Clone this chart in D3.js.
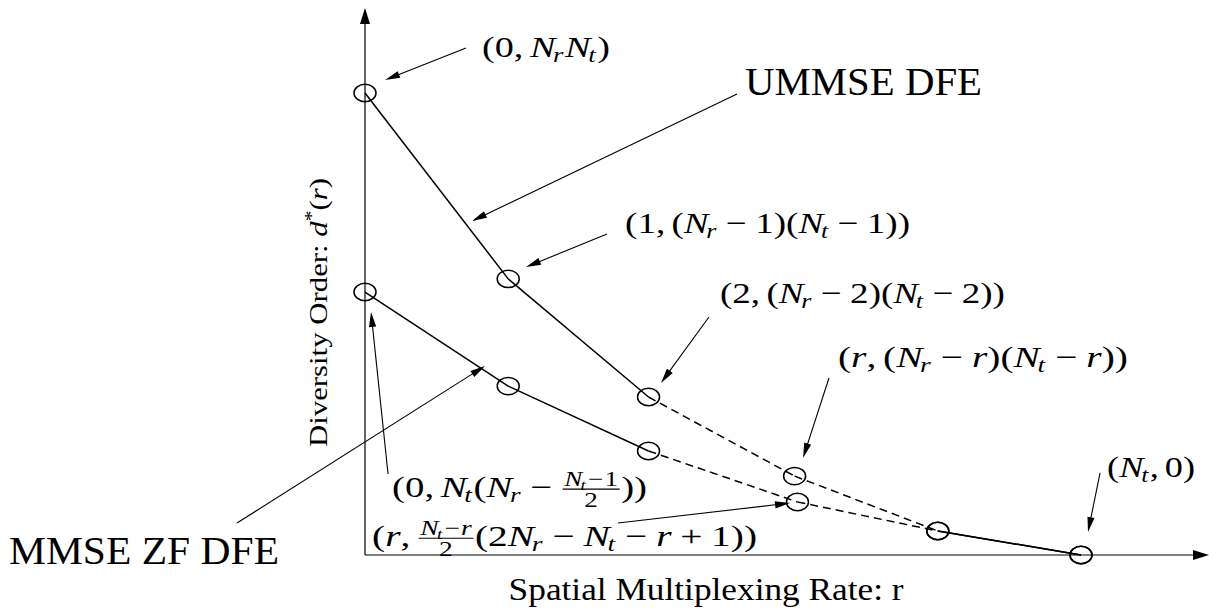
<!DOCTYPE html>
<html><head><meta charset="utf-8">
<script src="https://cdn.jsdelivr.net/npm/d3@7"></script>
<style>html,body{margin:0;padding:0;background:#fff;} svg{display:block;}</style>
</head><body>
<svg id="c" width="1217" height="612"></svg>
<script>
// ---------- data ----------
const ummseRate  = [0, 1, 1.98, 3, 4, 5];
const ummseOrder = [25, 14.94, 8.55, 4.27, 1.30, 0];
const zfRate     = [0, 1, 1.98, 3.02, 4, 5];
const zfOrder    = [14.23, 9.14, 5.63, 2.87, 1.30, 0];
const segmentStyle = ["solid", "solid", "dashed", "dashed", "solid"];
const seriesNames = ["UMMSE DFE", "MMSE ZF DFE"];
const xAxisTitle = "Spatial Multiplexing Rate: r";
const yAxisTitle = "Diversity Order: ";
const xAxisEnd = 5.894, yAxisEnd = 29.6;

// ---------- formula pieces ----------
const V = s => ({v: s});
const SUB = (...p) => ({sub: p});
const OP = s => ({op: s});
const SP = e => ({sp: e});
const FR = (n, d) => ({frac: [n, d]});
const fA1 = ["(0,", SP(.17), V("N"), SUB(V("r")), V("N"), SUB(V("t")), ")"];
const fA3 = ["(1,", SP(.17), "(", V("N"), SUB(V("r")), OP("\u2212"), "1)(", V("N"), SUB(V("t")), OP("\u2212"), "1))"];
const fA4 = ["(2,", SP(.17), "(", V("N"), SUB(V("r")), OP("\u2212"), "2)(", V("N"), SUB(V("t")), OP("\u2212"), "2))"];
const fA5 = ["(", V("r"), ",", SP(.17), "(", V("N"), SUB(V("r")), OP("\u2212"), V("r"), ")(", V("N"), SUB(V("t")), OP("\u2212"), V("r"), "))"];
const fA6 = ["(0,", SP(.17), V("N"), SUB(V("t")), "(", V("N"), SUB(V("r")), OP("\u2212"), FR([V("N"), SUB(V("t")), OP("\u2212"), "1"], ["2"]), "))"];
const fA7 = ["(", V("r"), ",", SP(.17), FR([V("N"), SUB(V("t")), OP("\u2212"), V("r")], ["2"]), "(2", V("N"), SUB(V("r")), OP("\u2212"), V("N"), SUB(V("t")), OP("\u2212"), V("r"), OP("+"), "1))"];
const fA8 = ["(", V("N"), SUB(V("t")), ",", SP(.17), "0)"];

// ---------- layout (data units) ----------
const annotations = [
  {f: fA1, tx: 0.817, ty: 26.95, w: 128, from: [0.705, 27.44], to: [0.140, 25.70]},
  {f: fA3, tx: 1.816, ty: 17.42, w: 285, from: [1.690, 17.37], to: [1.124, 15.58]},
  {f: fA4, tx: 2.479, ty: 13.64, w: 285, from: [2.402, 12.88], to: [2.067, 9.31]},
  {f: fA5, tx: 3.303, ty: 10.17, w: 290, from: [3.240, 9.58], to: [3.059, 5.25]},
  {f: fA6, tx: 0.189, ty: 3.16, w: 255, from: [0.161, 4.38], to: [0.042, 13.15]},
  {f: fA7, tx: 0.049, ty: 0.50, w: 385, from: [1.767, 1.73], to: [2.968, 2.81]},
  {f: fA8, tx: 5.182, ty: 4.22, w: 88, from: [5.133, 4.44], to: [5.049, 1.24]}
];
const seriesLabels = [
  {tx: 2.654, ty: 24.89, w: 237, from: [2.598, 24.95], to: [0.747, 18.07]},
  {tx: -2.486, ty: -0.487, w: 270, from: [-0.894, 1.73], to: [0.838, 10.23]}
];

const FONT = '"Liberation Serif", "Times New Roman", serif';
const x = d3.scaleLinear().domain([0, 5]).range([365, 1081]);
const y = d3.scaleLinear().domain([0, 25]).range([555, 93]);
const svg = d3.select('#c');
svg.append('rect').attr('width', 1217).attr('height', 612).attr('fill', '#fff');

function arrow(g, x1, y1, x2, y2, len, hw, sw, head) {
  const dx = x2 - x1, dy = y2 - y1, L = Math.hypot(dx, dy);
  const ux = dx / L, uy = dy / L;
  const bx = x2 - ux * len, by = y2 - uy * len;
  g.append('line').attr('x1', x1).attr('y1', y1)
    .attr('x2', head ? bx + ux * 2 : x2).attr('y2', head ? by + uy * 2 : y2)
    .attr('stroke', '#000').attr('stroke-width', sw);
  if (head) {
    g.append('path').attr('d', `M${x2},${y2}L${bx - uy * hw},${by + ux * hw}L${bx + uy * hw},${by - ux * hw}Z`)
      .attr('fill', '#000');
  }
}

// axes
const axes = svg.append('g');
arrow(axes, x(0), y(0), x(xAxisEnd), y(0), 16, 5, 1.2, true);
arrow(axes, x(0), y(0), x(0), y(yAxisEnd), 16, 5, 1.2, true);

// series
function drawSeries(rates, orders) {
  const g = svg.append('g');
  for (let i = 0; i < rates.length - 1; i++) {
    g.append('line')
      .attr('x1', x(rates[i])).attr('y1', y(orders[i]))
      .attr('x2', x(rates[i + 1])).attr('y2', y(orders[i + 1]))
      .attr('stroke', '#000').attr('stroke-width', 1.5)
      .attr('stroke-dasharray', segmentStyle[i] === 'dashed' ? '8,5' : null);
  }
  g.selectAll('ellipse').data(rates).enter().append('ellipse')
    .attr('cx', (d) => x(d)).attr('cy', (d, i) => y(orders[i]))
    .attr('rx', 11).attr('ry', 8.7)
    .attr('fill', 'none').attr('stroke', '#000').attr('stroke-width', 1.5);
}
drawSeries(ummseRate, ummseOrder);
drawSeries(zfRate, zfOrder);

// formula layout
function txt(g, s, cx, base, size, ital) {
  const t = g.append('text').attr('x', cx).attr('y', base)
    .attr('font-family', FONT).attr('font-size', size)
    .attr('font-style', ital ? 'italic' : 'normal').attr('fill', '#000').text(s);
  return t.node().getComputedTextLength();
}
function layout(g, items, size, x0, base, script) {
  let cx = x0;
  for (const it of items) {
    if (typeof it === 'string') {
      cx += txt(g, it, cx, base, size, false);
    } else if (it.v) {
      cx += txt(g, it.v, cx, base, size, true);
    } else if (it.sub) {
      cx = layout(g, it.sub, size * 0.7, cx - size * 0.06, base + size * 0.17, true) + size * 0.04;
    } else if (it.sp) {
      cx += it.sp * size;
    } else if (it.op) {
      const pad = script ? 0.04 : 0.22;
      cx += pad * size;
      cx += txt(g, it.op, cx, base, size, false);
      cx += pad * size;
    } else if (it.frac) {
      const fs = size * 0.7;
      const gn = g.append('g'), gd = g.append('g');
      const wn = layout(gn, it.frac[0], fs, 0, 0, true);
      const wd = layout(gd, it.frac[1], fs, 0, 0, true);
      const w = Math.max(wn, wd) + 0.16 * size;
      gn.attr('transform', `translate(${cx + (w - wn) / 2},${base - size * 0.35})`);
      gd.attr('transform', `translate(${cx + (w - wd) / 2},${base + size * 0.34})`);
      g.append('line').attr('x1', cx + 0.04 * size).attr('x2', cx + w - 0.04 * size)
        .attr('y1', base - size * 0.25).attr('y2', base - size * 0.25)
        .attr('stroke', '#000').attr('stroke-width', 1.2);
      cx += w;
    }
  }
  return cx;
}

const annG = svg.append('g');
annotations.forEach(a => {
  const outer = annG.append('g');
  const inner = outer.append('g');
  const wNat = layout(inner, a.f, 30, 0, 0, false);
  const sx = a.w / wNat;
  outer.attr('transform', `translate(${x(a.tx)},${y(a.ty)}) scale(${sx},1)`);
  arrow(annG, x(a.from[0]), y(a.from[1]), x(a.to[0]), y(a.to[1]), 15, 3.6, 1.1, true);
});

seriesLabels.forEach((s, i) => {
  svg.append('text').attr('x', x(s.tx)).attr('y', y(s.ty))
    .attr('font-family', FONT).attr('font-size', 39)
    .attr('textLength', s.w).attr('lengthAdjust', 'spacingAndGlyphs')
    .attr('fill', '#000').text(seriesNames[i]);
  arrow(svg, x(s.from[0]), y(s.from[1]), x(s.to[0]), y(s.to[1]), 15, 3.6, 1.1, true);
});

// axis titles
svg.append('text').attr('x', x(1.003)).attr('y', y(-2.435))
  .attr('font-family', FONT).attr('font-size', 32)
  .attr('textLength', 395).attr('lengthAdjust', 'spacingAndGlyphs')
  .attr('fill', '#000').text(xAxisTitle);

const yl = svg.append('text')
  .attr('transform', `translate(${x(-0.265)},${y(13.12)}) rotate(-90)`)
  .attr('text-anchor', 'middle')
  .attr('font-family', FONT).attr('font-size', 26)
  .attr('textLength', 269).attr('lengthAdjust', 'spacingAndGlyphs')
  .attr('fill', '#000');
yl.append('tspan').text(yAxisTitle);
yl.append('tspan').attr('font-style', 'italic').text('d');
yl.append('tspan').attr('font-size', 18).attr('dy', -9).text('*');
yl.append('tspan').attr('dy', 9).text('(');
yl.append('tspan').attr('font-style', 'italic').text('r');
yl.append('tspan').text(')');
</script>
</body></html>
